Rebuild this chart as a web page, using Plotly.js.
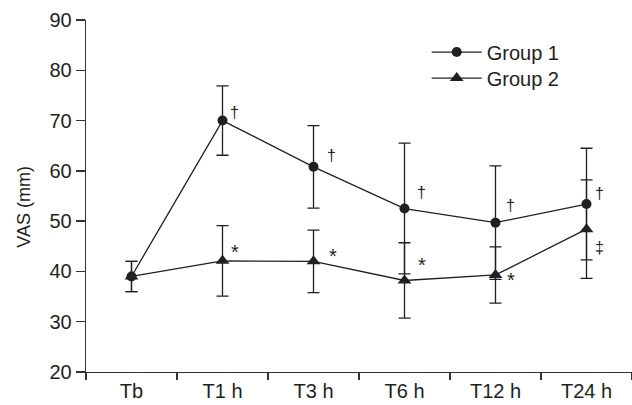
<!DOCTYPE html>
<html><head><meta charset="utf-8">
<script src="https://cdn.plot.ly/plotly-3.0.1.min.js"></script>
<style>html,body{margin:0;padding:0;background:#fff}#chart{width:632px;height:405px}</style>
</head><body><div id="chart"></div>
<script>
// ---- data ----
const categories = ["Tb", "T1 h", "T3 h", "T6 h", "T12 h", "T24 h"];
const group1Mean = [39.0, 70.0, 60.8, 52.5, 49.7, 53.4];
const group1SD   = [3.0, 6.9, 8.2, 13.0, 11.3, 11.1];
const group2Mean = [39.0, 42.1, 42.0, 38.2, 39.3, 48.4];
const group2SD   = [3.0, 7.0, 6.2, 7.5, 5.6, 9.8];
const group1Marks = ["", "†", "†", "†", "†", "†"];
const group2Marks = ["", "*", "*", "*", "*", "‡"];
const yTickVals = [20, 30, 40, 50, 60, 70, 80, 90];

// ---- styling ----
const ink = "#231f20";
const FONT = "Liberation Sans, Arial, sans-serif";
// pixel offsets (xshift, yshift) of significance marks from their point
const g1Shift = [[0,0],[12,8],[18,11],[17,16],[15,17],[13,11]];
const g2Shift = [[0,0],[12,9],[19,5],[17,15],[15,-5],[13,-18]];
const g2Size  = [0, 20, 20, 20, 20, 16];

const traces = [
  {
    name: "Group 1", x: categories, y: group1Mean, type: "scatter", mode: "lines+markers",
    legend: "legend",
    line: {color: ink, width: 1.3},
    marker: {symbol: "circle", size: 10, color: ink},
    error_y: {type: "data", array: group1SD, visible: true, color: ink, thickness: 1.3, width: 6}
  },
  {
    name: "Group 2", x: categories, y: group2Mean, type: "scatter", mode: "lines+markers",
    legend: "legend2",
    line: {color: ink, width: 1.3},
    marker: {symbol: "triangle-up", size: 12, color: ink},
    error_y: {type: "data", array: group2SD, visible: true, color: ink, thickness: 1.3, width: 6}
  }
];

const annotations = [];
categories.forEach((c, i) => {
  if (group1Marks[i]) annotations.push({x: c, y: group1Mean[i], text: group1Marks[i], showarrow: false,
    xshift: g1Shift[i][0], yshift: g1Shift[i][1], font: {family: FONT, size: 16, color: ink}});
  if (group2Marks[i]) annotations.push({x: c, y: group2Mean[i], text: group2Marks[i], showarrow: false,
    xshift: g2Shift[i][0], yshift: g2Shift[i][1], font: {family: FONT, size: g2Size[i], color: ink}});
});
annotations.push({xref: "paper", yref: "paper", x: -0.137, y: 0.47, text: "VAS (mm)", textangle: -90,
  showarrow: false, font: {family: FONT, size: 18, color: ink}});

const legendBase = {xanchor: "left", yanchor: "middle", bgcolor: "rgba(0,0,0,0)", itemwidth: 50,
  font: {family: FONT, size: 20, color: ink}};

const layout = {
  width: 632, height: 405,
  margin: {l: 86, r: 0, t: 20, b: 33},
  paper_bgcolor: "#fff", plot_bgcolor: "#fff",
  font: {family: FONT, size: 20, color: ink},
  showlegend: true,
  legend: Object.assign({x: 0.624, y: 0.909}, legendBase),
  legend2: Object.assign({x: 0.624, y: 0.835}, legendBase),
  xaxis: {
    type: "category", categoryorder: "array", categoryarray: categories,
    range: [-0.5, 5.5], tickson: "boundaries", ticks: "outside", ticklen: 7, tickwidth: 1.3,
    tickcolor: "#333", showline: true, linecolor: "#333", linewidth: 1.3,
    showgrid: false, zeroline: false, fixedrange: true, ticklabelstandoff: 1,
    tickfont: {family: FONT, size: 20, color: ink}
  },
  yaxis: {
    range: [20, 90], tickvals: yTickVals, ticks: "outside", ticklen: 9, tickwidth: 1.3,
    tickcolor: "#333", showline: true, linecolor: "#333", linewidth: 1.3,
    showgrid: false, zeroline: false, fixedrange: true,
    tickfont: {family: FONT, size: 20, color: ink}
  },
  annotations: annotations
};

Plotly.newPlot("chart", traces, layout, {displayModeBar: false, staticPlot: true});
</script>
</body></html>
